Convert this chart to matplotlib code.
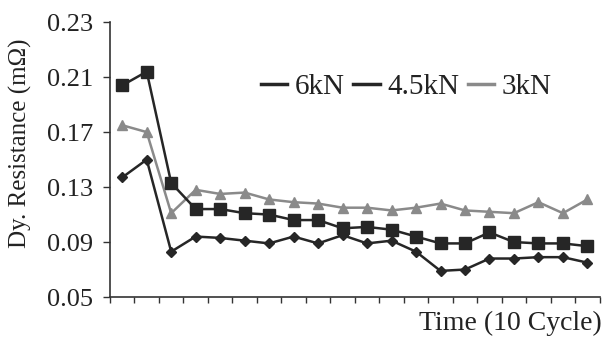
import matplotlib
matplotlib.use("Agg")
import matplotlib.pyplot as plt
from matplotlib.lines import Line2D
import numpy as np

cycles = list(range(1, 21))
r_6kN = [0.137, 0.150, 0.083, 0.094, 0.093, 0.091, 0.089, 0.094, 0.089, 0.095,
         0.089, 0.091, 0.083, 0.069, 0.070, 0.078, 0.078, 0.079, 0.079, 0.075]
r_45kN = [0.204, 0.214, 0.133, 0.114, 0.114, 0.111, 0.110, 0.106, 0.106, 0.100,
          0.101, 0.099, 0.094, 0.089, 0.089, 0.097, 0.090, 0.089, 0.089, 0.087]
r_3kN = [0.175, 0.170, 0.111, 0.128, 0.125, 0.126, 0.121, 0.119, 0.118, 0.115,
         0.115, 0.113, 0.115, 0.118, 0.113, 0.112, 0.111, 0.119, 0.111, 0.121]
ytick_vals = [0.05, 0.09, 0.13, 0.17, 0.21, 0.25]
ytick_labels = ["0.05", "0.09", "0.13", "0.17", "0.21", "0.23"]
labels = ["6kN", "4.5kN", "3kN"]

plt.rcParams['font.family'] = ['Liberation Serif', 'DejaVu Serif']

fig = plt.figure(figsize=(6.06, 3.41), dpi=100)
ax = fig.add_axes([0.1815, 0.129, 0.808, 0.806])

dark = "#262626"
gray = "#8a8a8a"
x = np.arange(len(cycles))
ax.plot(x, r_6kN, color=dark, lw=1.8, marker="D", ms=5, zorder=3)
ax.plot(x, r_45kN, color=dark, lw=1.8, marker="s", ms=8, zorder=3)
ax.plot(x, r_3kN, color=gray, lw=1.8, marker="^", ms=7.5, zorder=2)

ax.set_xlim(-0.5, len(cycles) - 0.5)
ax.set_ylim(0.05, 0.25)
ax.set_yticks(ytick_vals)
ax.set_yticklabels(ytick_labels)
ax.set_xticks(np.arange(-0.5, len(cycles), 1.0))
ax.set_xticklabels([])
ax.tick_params(axis='x', direction='out', length=4, width=1, color="#333333")
ax.tick_params(axis='y', direction='out', length=5, width=1, color="#333333",
               labelsize=19, pad=7, labelcolor="#222222")
for s in ["top", "right"]:
    ax.spines[s].set_visible(False)
for s in ["left", "bottom"]:
    ax.spines[s].set_color("#333333")
    ax.spines[s].set_linewidth(1.2)

ax.set_ylabel("Dy. Resistance (m\u03a9)", fontsize=18, color="#222222",
              va="center")
ax.yaxis.set_label_coords(-0.183, 0.56)
ax.set_xlabel("Time (10 Cycle)", fontsize=20, color="#222222", ha="right", va="top")
ax.xaxis.set_label_coords(1.005, -0.05)

handles = [Line2D([], [], color=dark, lw=2.5),
           Line2D([], [], color=dark, lw=2.5),
           Line2D([], [], color=gray, lw=2.5)]
ax.legend(handles, labels, ncol=3, frameon=False, fontsize=21,
          loc="center", bbox_to_anchor=(0.605, 0.765), handlelength=0.9,
          handletextpad=0.25, columnspacing=0.3, labelcolor="#222222")

fig.savefig("out.png", dpi=100)
